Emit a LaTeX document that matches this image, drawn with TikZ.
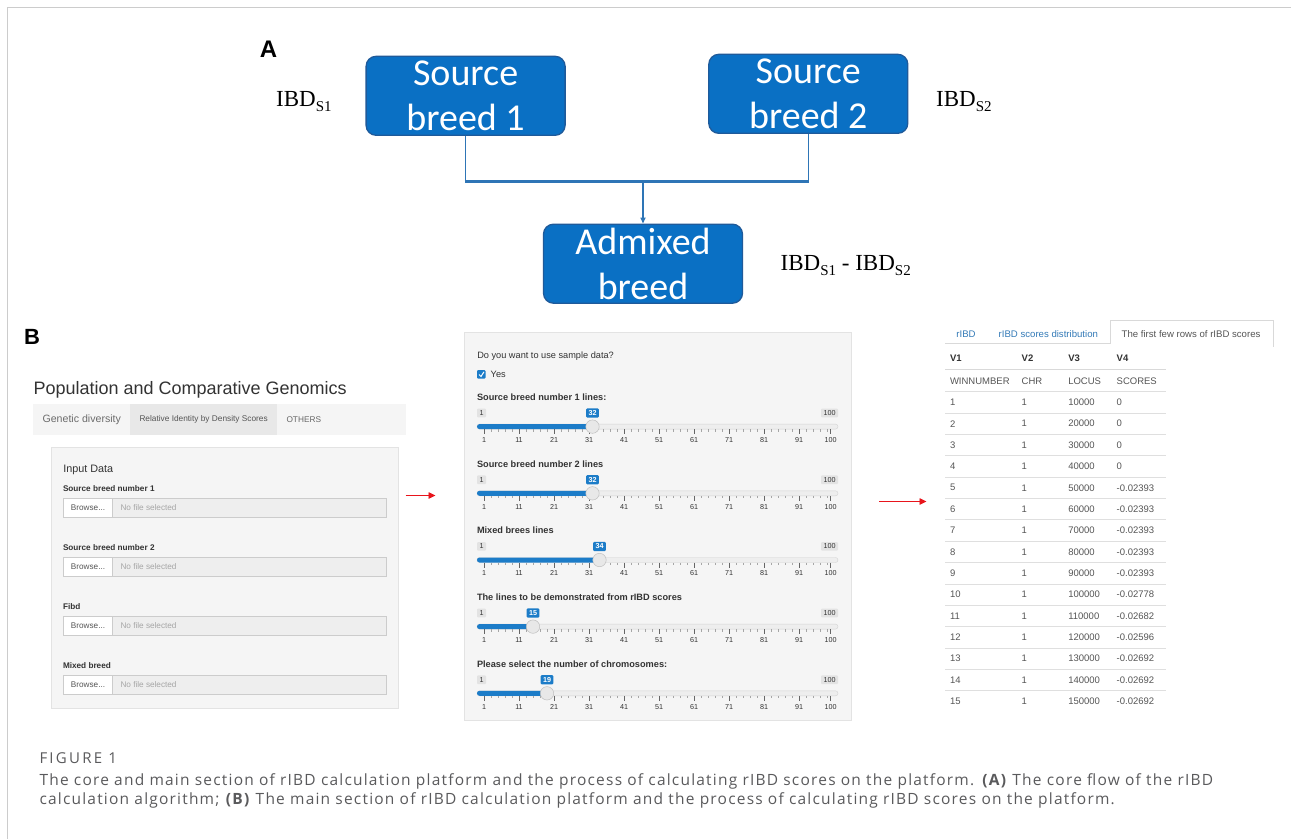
\documentclass[tikz,border=0pt]{standalone}
\usepackage{fontspec}
\setmainfont{Liberation Sans}
\newfontfamily\calibf{Carlito}
\newfontfamily\timesf{Liberation Serif}
\newfontfamily\capfont{Open Sans}
\usetikzlibrary{arrows.meta}
\newcommand\fsz[2]{\fontsize{#1}{#2}\selectfont}
\definecolor{boxblue}{HTML}{0A70C4}
\definecolor{boxedge}{HTML}{1F5A9A}
\definecolor{connblue}{HTML}{2E75B6}
\definecolor{uiblue}{HTML}{1C7CC8}
\definecolor{linkblue}{HTML}{337AB7}
\definecolor{arrowred}{HTML}{E8141B}
\definecolor{framegray}{HTML}{CCCCCC}
\definecolor{panelbg}{HTML}{F5F5F5}
\definecolor{paneledge}{HTML}{E3E3E3}
\definecolor{inputbg}{HTML}{EEEEEE}
\definecolor{inputedge}{HTML}{CCCCCC}
\definecolor{txtdark}{HTML}{333333}
\definecolor{txtmid}{HTML}{555555}
\definecolor{txtlight}{HTML}{999999}
\definecolor{capgray}{HTML}{5A5A5C}
\tikzset{
  txt/.style={inner sep=0pt, outer sep=0pt, text=txtdark},
  bluebox/.style={draw=boxedge, line width=1.3pt, fill=boxblue, rounded corners=10pt,
     minimum width=199pt, minimum height=79pt, inner sep=0pt, align=center,
     text=white, font=\calibf\fsz{38}{45}},
  connthin/.style={draw=connblue, line width=1.5pt},
  connthick/.style={draw=connblue, line width=2.6pt},
  ibd/.style={inner sep=0pt, anchor=base west, font=\timesf\fsz{23}{23}},
  uilab/.style={txt, anchor=west, font=\fsz{9.2}{10}},
  uilabb/.style={txt, anchor=west, font=\bfseries\fsz{9.2}{10}},
  filelab/.style={txt, anchor=west, font=\bfseries\fsz{8.2}{9}},
  ticklab/.style={txt, font=\fsz{7.2}{8}},
  tabletxt/.style={txt, anchor=west, text=txtmid, font=\fsz{9.5}{10}},
  tablehead/.style={txt, anchor=west, font=\bfseries\fsz{9.5}{10}},
  redarrow/.style={draw=arrowred, line width=0.9pt, -{Triangle[length=7pt,width=6.5pt]}},
  captxt/.style={txt, anchor=west, text=capgray, font=\capfont\fsz{15.5}{18}\addfontfeatures{LetterSpace=7.8}},
}
\newcommand\uislider[4]{%
  \node[uilabb] (#4) at (477,#1) {#2};
  \fill[gray!22, rounded corners=1pt] (477,#1+11.3) rectangle (486,#1+20);
  \node[ticklab] (#4min) at (481.5,#1+15.7) {1};
  \fill[gray!22, rounded corners=1pt] (821,#1+11.3) rectangle (838,#1+20);
  \node[ticklab] (#4max) at (829.5,#1+15.7) {100};
  \filldraw[fill=inputbg, draw=gray!35, line width=0.4pt, rounded corners=2.5pt] (477,#1+26.8) rectangle (838,#1+31.8);
  \fill[uiblue, rounded corners=2.5pt] (477,#1+26.8) rectangle ({484+3.5*(#3-1)},#1+31.8);
  \foreach \v in {1,3,...,99} {\draw[gray!70, line width=0.5pt] ({484+3.5*(\v-1)},#1+31.8) -- ++(0,2.6);}
  \foreach \v in {1,11,...,91,100} {
    \draw[gray!80!black, line width=0.6pt] ({484+3.5*(\v-1)},#1+31.8) -- ++(0,5);
    \node[ticklab] at ({484+3.5*(\v-1)},#1+42.7) {\v};
  }
  \filldraw[fill=gray!18, draw=gray!50, line width=0.5pt] ({484+3.5*(#3-1)},#1+29.3) circle (6.7pt);
  \fill[uiblue, rounded corners=1pt] ({484+3.5*(#3-1)-6.3},#1+11.1) rectangle ({484+3.5*(#3-1)+6.3},#1+20.3);
  \node[ticklab, text=white, font=\bfseries\fsz{7.2}{8}] (#4val) at ({484+3.5*(#3-1)},#1+15.7) {#3};
}
\newcommand\fileinput[3]{%
  \node[filelab] (#3) at (63,#1) {#2};
  \filldraw[fill=inputbg, draw=inputedge, line width=0.5pt] (63,#1+9.3) rectangle (386,#1+28.5);
  \filldraw[fill=white, draw=inputedge, line width=0.5pt] (63,#1+9.3) rectangle (112,#1+28.5);
  \node[txt, text=txtmid, font=\fsz{8.2}{9}] (#3btn) at (88,#1+18.9) {Browse...};
  \node[txt, anchor=west, text=gray!70, font=\fsz{8.2}{9}] (#3nf) at (120.5,#1+18.9) {No file selected};
}
\begin{document}
\begin{tikzpicture}[x=1pt,y=-1pt]
\useasboundingbox (0,0) rectangle (1291,839);
\fill[white] (0,0) rectangle (1291,839);
% frame
\draw[framegray, line width=1.4pt] (7.5,839) -- (7.5,7.5) -- (1291,7.5);

% ---------------- Part A
\node[txt, text=black, font=\bfseries\fsz{24}{24}] (labA) at (268.5,49) {A};
\node[bluebox] (s1) at (465.6,95.8) {Source\\breed 1};
\node[bluebox] (s2) at (808.3,93.8) {Source\\breed 2};
\node[bluebox] (ad) at (643,263.7) {Admixed\\breed};
\coordinate (j) at (643,181.7);
\draw[connthin] (s1.south) -- (s1.south |- j);
\draw[connthin] (s2.south) -- (s2.south |- j);
\draw[connthick] ([xshift=-0.75pt]s1.south |- j) -- ([xshift=0.75pt]s2.south |- j);
\draw[connthin, -{Triangle[length=6pt,width=5pt]}] (j) -- (ad.north);
\node[ibd] (i1) at (276,106) {IBD\raisebox{-5pt}{\fsz{15}{15}S1}};
\node[ibd] (i2) at (936,106) {IBD\raisebox{-5pt}{\fsz{15}{15}S2}};
\node[ibd] (i3) at (780.5,270) {IBD\raisebox{-5pt}{\fsz{15}{15}S1} - IBD\raisebox{-5pt}{\fsz{15}{15}S2}};

% ---------------- Part B
\node[txt, text=black, font=\bfseries\fsz{22}{22}] (labB) at (32,337) {B};

% left UI
\node[txt, anchor=base west, font=\fsz{18}{18}] (title) at (33.5,394.9) {Population and Comparative Genomics};
\fill[panelbg] (33,404.3) rectangle (406.3,434.7);
\fill[gray!18] (130,404.3) rectangle (277,434.7);
\node[txt, anchor=west, text=gray!85!black, font=\fsz{10.6}{11}] (tab1) at (42.6,419.5) {Genetic diversity};
\node[txt, anchor=west, text=txtmid, font=\fsz{8.3}{9}] (tab2) at (139.5,419.5) {Relative Identity by Density Scores};
\node[txt, anchor=west, text=gray!80!black, font=\fsz{8.3}{9}] (tab3) at (286.5,419.5) {OTHERS};
\filldraw[fill=panelbg, draw=paneledge, line width=0.6pt] (51.5,447) rectangle (398,708);
\node[txt, anchor=west, font=\fsz{10.8}{11}] (inp) at (63.4,470.1) {Input Data};
\fileinput{488.7}{Source breed number 1}{f1}
\fileinput{547.7}{Source breed number 2}{f2}
\fileinput{606.8}{Fibd}{f3}
\fileinput{665.5}{Mixed breed}{f4}

\coordinate (ra1s) at (405.6,495.5);
\coordinate (ra1e) at (435.5,495.5);
\draw[redarrow] (ra1s) -- (ra1e);

% middle UI
\filldraw[fill=panelbg, draw=paneledge, line width=0.6pt] (464,332.7) rectangle (851.7,720);
\node[uilab] (q) at (477.3,355.7) {Do you want to use sample data?};
\fill[uiblue, rounded corners=1pt] (477,370) rectangle (485.5,378.5);
\draw[white, line width=1pt] (479,374.5) -- (481,376.5) -- (484,371.8);
\node[uilab] (yes) at (490.7,374) {Yes};
\uislider{397.3}{Source breed number 1 lines:}{32}{sl1}
\uislider{464}{Source breed number 2 lines}{32}{sl2}
\uislider{530.7}{Mixed brees lines}{34}{sl3}
\uislider{597.3}{The lines to be demonstrated from rIBD scores}{15}{sl4}
\uislider{664}{Please select the number of chromosomes:}{19}{sl5}

\coordinate (ra2s) at (879,501.5);
\coordinate (ra2e) at (926.5,501.5);
\draw[redarrow] (ra2s) -- (ra2e);

% right table
\draw[gray!30, line width=0.6pt] (945,343.5) -- (1110,343.5);
\filldraw[fill=white, draw=gray!30, line width=0.6pt] (1110,343.5) -- (1110,320) -- (1273,320) -- (1273,347);
\node[txt, text=linkblue, font=\fsz{9.6}{10}] (t1) at (966,334.3) {rIBD};
\node[txt, anchor=west, text=linkblue, font=\fsz{9.6}{10}] (t2) at (998.7,334.3) {rIBD scores distribution};
\node[txt, anchor=west, text=txtmid, font=\fsz{9.6}{10}] (t3) at (1121.7,334.3) {The first few rows of rIBD scores};
\node[tablehead] (h1) at (950,358.3) {V1};
\node[tablehead] (h2) at (1021.7,358.3) {V2};
\node[tablehead] (h3) at (1068.3,358.3) {V3};
\node[tablehead] (h4) at (1116.7,358.3) {V4};
\draw[gray!30, line width=1.6pt] (945,369.3) -- (1166,369.3);
\node[tabletxt] (w1) at (950,381) {WINNUMBER};
\node[tabletxt] (w2) at (1021.7,381) {CHR};
\node[tabletxt] (w3) at (1068.3,381) {LOCUS};
\node[tabletxt] (w4) at (1116.7,381) {SCORES};
\foreach \k in {0,...,14} {\draw[gray!25, line width=0.7pt] (945,391.7+21.35*\k) -- (1166,391.7+21.35*\k);}
\foreach \a/\b/\c/\d [count=\k] in {1/1/10000/0, 2/1/20000/0, 3/1/30000/0, 4/1/40000/0,
   5/1/50000/-0.02393, 6/1/60000/-0.02393, 7/1/70000/-0.02393, 8/1/80000/-0.02393,
   9/1/90000/-0.02393, 10/1/100000/-0.02778, 11/1/110000/-0.02682, 12/1/120000/-0.02596,
   13/1/130000/-0.02692, 14/1/140000/-0.02692, 15/1/150000/-0.02692} {
  \node[tabletxt] (r\k a) at (950,381+21.35*\k) {\a};
  \node[tabletxt] (r\k b) at (1021.7,381+21.35*\k) {\b};
  \node[tabletxt] (r\k c) at (1068.3,381+21.35*\k) {\c};
  \node[tabletxt] (r\k d) at (1116.7,381+21.35*\k) {\d};
}

% caption
\node[txt, anchor=west, text=capgray, font=\capfont\fsz{15}{16}\addfontfeatures{LetterSpace=15}] (fig) at (39.5,758.3) {FIGURE 1};
\node[captxt] (cap1) at (39.5,781.7) {The core and main section of rIBD calculation platform and the process of calculating rIBD scores on the platform. \textbf{(A)} The core flow of the rIBD};
\node[captxt] (cap2) at (39.5,800.2) {calculation algorithm; \textbf{(B)} The main section of rIBD calculation platform and the process of calculating rIBD scores on the platform.};
\end{tikzpicture}
\end{document}
